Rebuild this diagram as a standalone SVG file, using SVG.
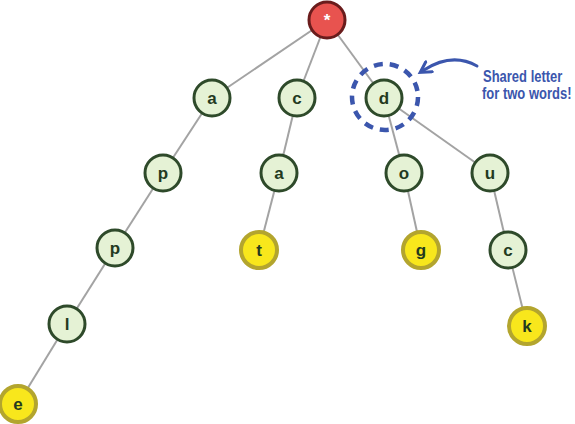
<svg xmlns="http://www.w3.org/2000/svg" width="575" height="424" viewBox="0 0 575 424">
<style>
.e{stroke:#a3a3a3;stroke-width:2;fill:none}
.n circle{fill:#e5f2d5;stroke:#2e4a2a;stroke-width:3}
.y circle{fill:#f8e71c;stroke:#b3a52e;stroke-width:4}
.r circle{fill:#e8534f;stroke:#6a1c1c;stroke-width:3}
text.l{font-family:"Liberation Sans",Arial,sans-serif;font-weight:bold;font-size:17px;fill:#233a1f;text-anchor:middle}
.r text{fill:#fff}
.note{font-family:"Liberation Sans",Arial,sans-serif;font-weight:bold;font-size:13px;fill:#3b56ad}
</style>
<defs>
<marker id="ah" viewBox="0 0 10 10" refX="5" refY="5" markerWidth="5" markerHeight="5" orient="auto-start-reverse">
<path d="M1,1 L8,5 L1,9" fill="none" stroke="#3b56ad" stroke-width="2" stroke-linecap="round"/>
</marker>
</defs>
<g id="edges">
<line class="e" x1="327" y1="20" x2="212" y2="98"/>
<line class="e" x1="327" y1="20" x2="297" y2="98"/>
<line class="e" x1="327" y1="20" x2="384" y2="98"/>
<line class="e" x1="212" y1="98" x2="163" y2="173"/>
<line class="e" x1="163" y1="173" x2="115" y2="248"/>
<line class="e" x1="115" y1="248" x2="67" y2="324"/>
<line class="e" x1="67" y1="324" x2="18" y2="404"/>
<line class="e" x1="297" y1="98" x2="279" y2="173"/>
<line class="e" x1="279" y1="173" x2="259" y2="250"/>
<line class="e" x1="384" y1="98" x2="404" y2="173"/>
<line class="e" x1="404" y1="173" x2="421" y2="250"/>
<line class="e" x1="384" y1="98" x2="490" y2="173"/>
<line class="e" x1="490" y1="173" x2="508" y2="250"/>
<line class="e" x1="508" y1="250" x2="527" y2="326"/>
</g>
<g id="root" class="r"><circle cx="327" cy="20" r="18"/><text class="l" x="327" y="26">*</text></g>
<g id="n-a" class="n"><circle cx="212" cy="98" r="18"/><text class="l" x="212" y="104">a</text></g>
<g id="n-c" class="n"><circle cx="297" cy="98" r="18"/><text class="l" x="297" y="104">c</text></g>
<g id="n-d" class="n"><circle cx="384" cy="98" r="18"/><text class="l" x="384" y="104">d</text></g>
<g id="n-p1" class="n"><circle cx="163" cy="173" r="18"/><text class="l" x="163" y="179">p</text></g>
<g id="n-a2" class="n"><circle cx="279" cy="173" r="18"/><text class="l" x="279" y="179">a</text></g>
<g id="n-o" class="n"><circle cx="404" cy="173" r="18"/><text class="l" x="404" y="179">o</text></g>
<g id="n-u" class="n"><circle cx="490" cy="173" r="18"/><text class="l" x="490" y="179">u</text></g>
<g id="n-p2" class="n"><circle cx="115" cy="248" r="18"/><text class="l" x="115" y="254">p</text></g>
<g id="n-t" class="y"><circle cx="259" cy="250" r="18"/><text class="l" x="259" y="256">t</text></g>
<g id="n-g" class="y"><circle cx="421" cy="250" r="18"/><text class="l" x="421" y="256">g</text></g>
<g id="n-c2" class="n"><circle cx="508" cy="250" r="18"/><text class="l" x="508" y="256">c</text></g>
<g id="n-l" class="n"><circle cx="67" cy="324" r="18"/><text class="l" x="67" y="330">l</text></g>
<g id="n-k" class="y"><circle cx="527" cy="326" r="18"/><text class="l" x="527" y="332">k</text></g>
<g id="n-e" class="y"><circle cx="18" cy="404" r="18"/><text class="l" x="18" y="410">e</text></g>
<g id="annotation">
<circle cx="385" cy="97" r="33" fill="none" stroke="#3b56ad" stroke-width="4.5" stroke-dasharray="9 7"/>
<path d="M477,66 Q452,52 424,70" fill="none" stroke="#3b56ad" stroke-width="3" stroke-linecap="round" marker-end="url(#ah)"/>
<text class="note" transform="translate(483,82) scale(1,1.2)">Shared letter</text>
<text class="note" transform="translate(482,99) scale(1,1.2)">for two words!</text>
</g>
</svg>
